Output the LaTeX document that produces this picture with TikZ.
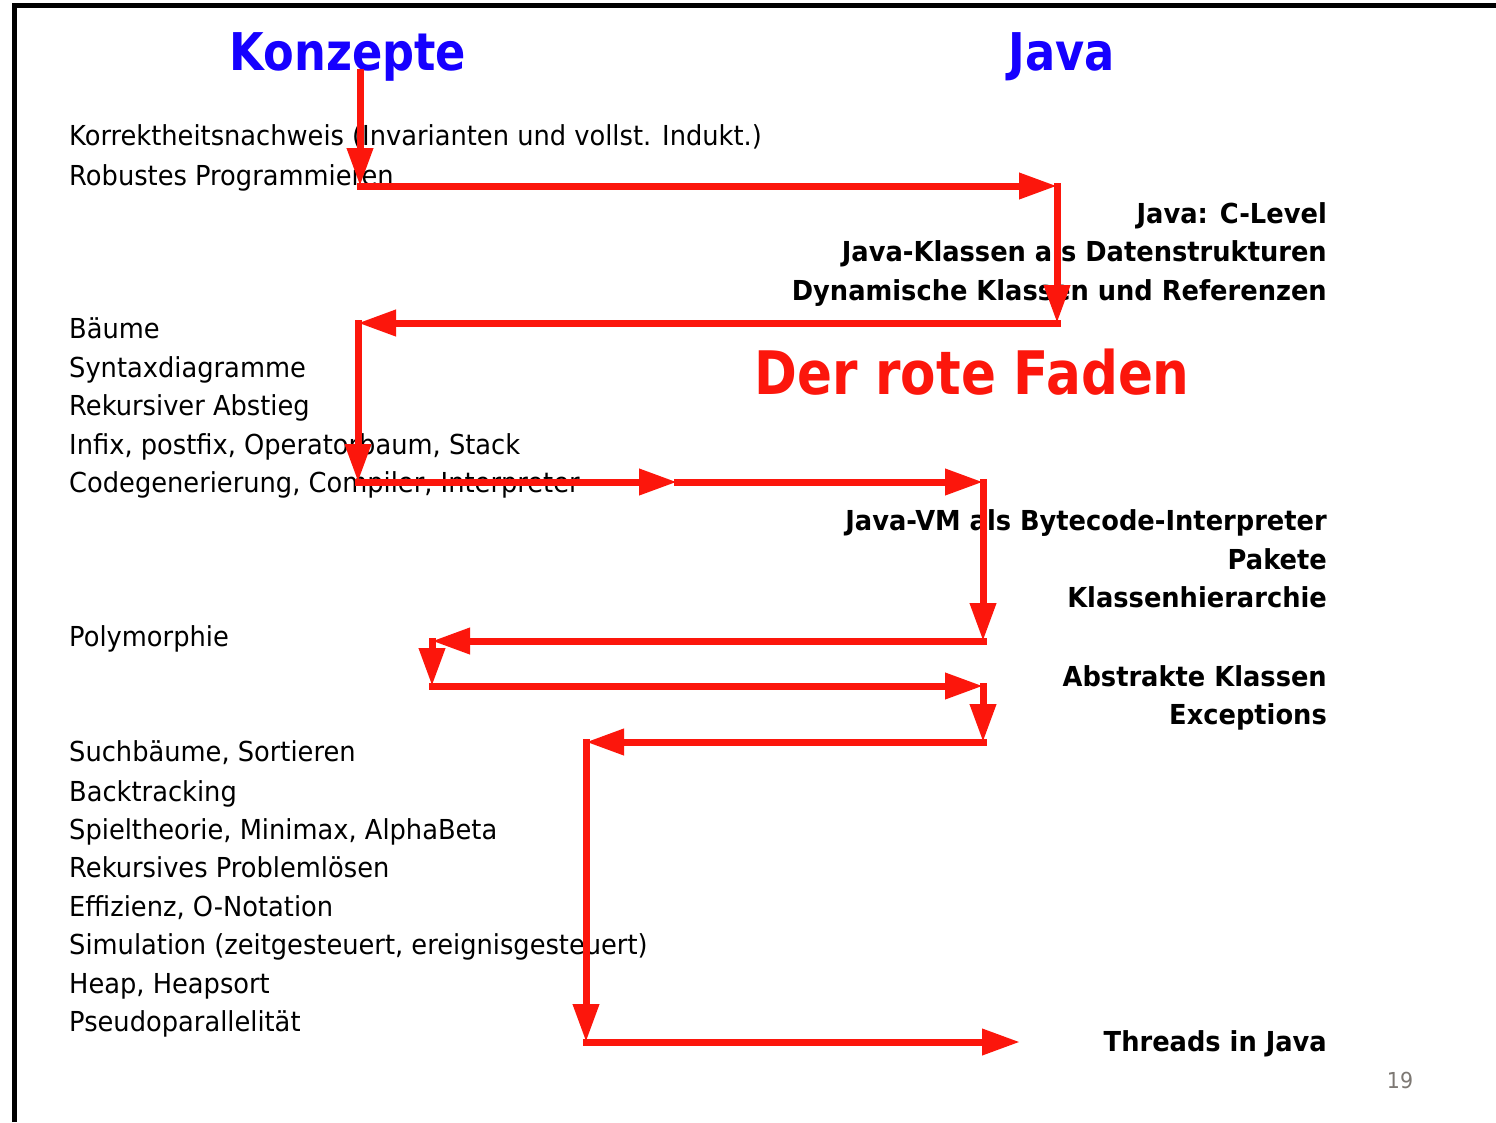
\documentclass[tikz,border=0pt]{standalone}
\usepackage{fontspec}
\setmainfont{DejaVu Sans}[FakeStretch=0.935]
\newfontfamily\titlefont{DejaVu Sans}[FakeStretch=0.86]
\usetikzlibrary{arrows.meta}
\definecolor{fadenred}{RGB}{252,22,12}
\definecolor{titleblue}{RGB}{22,0,255}
\definecolor{pagegray}{RGB}{125,120,115}
\tikzset{
  x=1pt,y=-1pt,
  lefttxt/.style={anchor=base west,font=\fontsize{27.5}{32}\selectfont,inner sep=0pt},
  righttxt/.style={anchor=base east,font=\bfseries\fontsize{27.5}{32}\selectfont,inner sep=0pt},
  titletxt/.style={anchor=base,font=\titlefont\bfseries\fontsize{52}{60}\selectfont,text=titleblue,inner sep=0pt},
  flow/.style={draw=fadenred,line width=7pt,line cap=rect,-{Triangle[length=38pt,width=25pt]}},
  frameline/.style={draw=black,line width=5pt}
}
\begin{document}
\begin{tikzpicture}
\useasboundingbox (0,0) rectangle (1496,1122);
\fill[white] (0,0) rectangle (1496,1122);
% slide frame
\draw[frameline] (14,1122) -- (14,5.5) -- (1496,5.5);
% titles
\node[titletxt] (konzepte) at (348,70) {Konzepte};
\node[titletxt] (java) at (1062,70) {Java};
\node[anchor=base,font=\titlefont\bfseries\fontsize{60}{68}\selectfont,text=fadenred,inner sep=0pt] (faden) at (972,394) {Der rote Faden};
\node[anchor=base,font=\fontsize{22}{26}\selectfont,text=pagegray,inner sep=0pt] (page) at (1400,1088) {19};
% left column
\node[lefttxt] (l1) at (69,145) {Korrektheitsnachweis (Invarianten und vollst. Indukt.)};
\node[lefttxt] (l2) at (69,185) {Robustes Programmieren};
\node[lefttxt] (l3) at (69,338) {Bäume};
\node[lefttxt] (l4) at (69,377) {Syntaxdiagramme};
\node[lefttxt] (l5) at (69,415) {Rekursiver Abstieg};
\node[lefttxt] (l6) at (69,454) {Infix, postfix, Operatorbaum, Stack};
\node[lefttxt] (l7) at (69,492) {Codegenerierung, Compiler, Interpreter};
\node[lefttxt] (l8) at (69,646) {Polymorphie};
\node[lefttxt] (l9) at (69,761) {Suchbäume, Sortieren};
\node[lefttxt] (l10) at (69,801) {Backtracking};
\node[lefttxt] (l11) at (69,839) {Spieltheorie, Minimax, AlphaBeta};
\node[lefttxt] (l12) at (69,877) {Rekursives Problemlösen};
\node[lefttxt] (l13) at (69,916) {Effizienz, O-Notation};
\node[lefttxt] (l14) at (69,954) {Simulation (zeitgesteuert, ereignisgesteuert)};
\node[lefttxt] (l15) at (69,993) {Heap, Heapsort};
\node[lefttxt] (l16) at (69,1031) {Pseudoparallelität};
% right column
\node[righttxt] (r1) at (1327,223) {Java: C-Level};
\node[righttxt] (r2) at (1327,261) {Java-Klassen als Datenstrukturen};
\node[righttxt] (r3) at (1327,300) {Dynamische Klassen und Referenzen};
\node[righttxt] (r4) at (1327,530) {Java-VM als Bytecode-Interpreter};
\node[righttxt] (r5) at (1327,569) {Pakete};
\node[righttxt] (r6) at (1327,607) {Klassenhierarchie};
\node[righttxt] (r7) at (1327,686) {Abstrakte Klassen};
\node[righttxt] (r8) at (1327,724) {Exceptions};
\node[righttxt] (r9) at (1327,1051) {Threads in Java};
% path corners
\coordinate (k0) at (360,72);
\coordinate (p1) at (360,186);
\coordinate (p2) at (1057,186);
\coordinate (p3) at (1057,323);
\coordinate (p4) at (358,323);
\coordinate (p5) at (358,482);
\coordinate (pm) at (677,482);
\coordinate (p6) at (983,482);
\coordinate (p7) at (983,641);
\coordinate (p8) at (432,641);
\coordinate (p9) at (432,686);
\coordinate (p10) at (983,686);
\coordinate (p11) at (983,742);
\coordinate (p12) at (586,742);
\coordinate (p13) at (586,1042);
\coordinate (p14) at (1020,1042);
% red thread
\draw[flow] (k0) -- (p1);
\draw[flow] (p1) -- (p2);
\draw[flow] (p2) -- (p3);
\draw[flow] (p3) -- (p4);
\draw[flow] (p4) -- (p5);
\draw[flow] (p5) -- (pm);
\draw[flow] (pm) -- (p6);
\draw[flow] (p6) -- (p7);
\draw[flow] (p7) -- (p8);
\draw[flow] (p8) -- (p9);
\draw[flow] (p9) -- (p10);
\draw[flow] (p10) -- (p11);
\draw[flow] (p11) -- (p12);
\draw[flow] (p12) -- (p13);
\draw[flow] (p13) -- (p14);
\end{tikzpicture}
\end{document}
